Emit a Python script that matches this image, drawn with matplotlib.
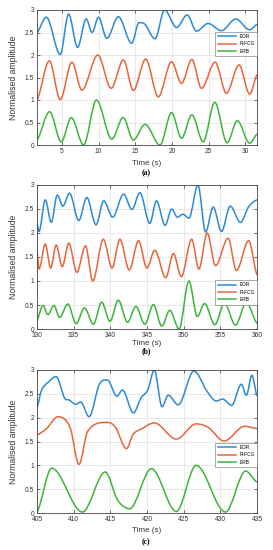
import numpy as np
import matplotlib
matplotlib.use("Agg")
import matplotlib.pyplot as plt
from matplotlib.path import Path
from matplotlib.patches import PathPatch
from matplotlib.lines import Line2D
from matplotlib.ticker import FuncFormatter

plt.rcParams['font.family'] = ['Liberation Sans', 'DejaVu Sans']

# --- valeurs (extrema + quelques points de forme) ---
# panel (a)
t_edr_a = [1.6, 2.87, 4.77, 5.91, 7.13, 8.31, 9.12, 9.98, 11.12, 12.70, 14.51, 15.51, 16.33,
           17.69, 19.0, 20.63, 22.08, 23.35, 24.94, 26.75, 28.70, 30.6, 31.6]
y_edr_a = [2.50, 2.84, 2.01, 2.91, 2.17, 2.80, 2.50, 2.84, 2.37, 2.85, 2.26, 2.72, 2.68,
           2.36, 3.0, 2.61, 2.89, 2.53, 2.70, 2.54, 2.80, 2.56, 2.68]
t_fcg_a = [1.6, 3.28, 4.77, 6.36, 7.72, 9.89, 11.71, 13.38, 14.74, 16.42, 18.14, 19.95,
           21.31, 22.72, 24.03, 25.89, 27.43, 29.15, 30.6, 31.6]
y_fcg_a = [1.0, 1.87, 1.01, 1.84, 1.22, 2.0, 1.26, 1.89, 1.21, 1.91, 1.07, 1.85,
           1.37, 1.90, 1.26, 1.84, 1.15, 1.78, 1.13, 1.56]
t_erb_a = [1.6, 3.32, 4.91, 6.27, 7.95, 9.71, 11.80, 13.34, 14.74, 16.33, 18.37, 19.95,
           21.31, 22.72, 24.26, 25.84, 27.52, 28.92, 30.6, 31.6]
y_erb_a = [0.11, 0.74, 0.07, 0.61, 0.0, 1.0, 0.13, 0.61, 0.11, 0.46, 0.0, 0.72,
           0.15, 0.67, 0.07, 0.95, 0.05, 0.54, 0.04, 0.24]

# panel (b)
t_edr_b = [330, 330.27, 331.13, 331.95, 332.76, 333.53, 334.43, 335.70, 336.79, 338.05, 339.10,
           340.32, 341.81, 342.94, 344.03, 345.38, 346.29, 347.47, 348.37, 349.14, 349.91,
           350.72, 351.95, 352.99, 354.03, 355.16, 356.35, 357.74, 358.87, 360]
y_edr_b = [2.20, 2.03, 2.69, 2.22, 2.79, 2.56, 2.83, 2.26, 2.74, 2.17, 2.67,
           2.33, 2.81, 2.49, 2.84, 2.20, 2.67, 2.16, 2.50, 2.33, 2.39,
           2.31, 3.0, 2.02, 2.54, 2.03, 2.56, 2.22, 2.55, 2.69]
t_fcg_b = [330, 330.27, 331.13, 331.86, 332.62, 333.44, 334.34, 335.43, 336.61, 337.60, 339.05,
           340.23, 341.31, 342.58, 343.85, 344.98, 346.06, 347.56, 348.60, 349.68, 351.09,
           352.08, 353.21, 354.34, 356.06, 357.19, 358.87, 360]
y_fcg_b = [1.61, 1.25, 1.77, 1.27, 1.75, 1.30, 1.79, 1.18, 1.73, 1.0, 1.87,
           1.27, 1.87, 1.23, 1.84, 1.27, 1.64, 1.07, 1.57, 1.09, 1.87,
           1.25, 2.0, 1.32, 1.89, 1.22, 1.84, 1.13]
t_erb_b = [330, 330.81, 331.49, 332.31, 333.08, 334.21, 335.34, 336.47, 337.69, 338.82, 339.95,
           341.09, 342.35, 343.48, 344.71, 345.88, 347.01, 348.10, 349.37, 350.72, 351.86,
           352.85, 354.25, 355.57, 357.06, 358.55, 360]
y_erb_b = [0.18, 0.49, 0.30, 0.49, 0.24, 0.52, 0.11, 0.44, 0.10, 0.56, 0.16,
           0.60, 0.14, 0.47, 0.10, 0.51, 0.06, 0.39, 0.0, 1.0, 0.26,
           0.53, 0.09, 0.54, 0.08, 0.55, 0.12]

# panel (c)
t_edr_c = [405, 405.6, 406.5, 407.6, 408.77, 409.4, 410.3, 410.95, 412.1, 413.5, 414.6,
           415.9, 416.65, 418.15, 419.2, 420.1, 421.0, 422.05, 422.9, 424.25, 426.4,
           428.2, 429.45, 430.3, 431.55, 432.86, 433.55, 434.3, 435]
y_edr_c = [2.21, 2.57, 2.74, 2.86, 2.41, 2.37, 2.28, 2.33, 2.02, 2.70, 2.79,
           2.45, 2.58, 2.10, 2.42, 2.58, 3.0, 2.23, 2.47, 2.27, 2.98,
           2.55, 2.35, 2.39, 2.26, 2.70, 2.47, 2.89, 2.46]
t_fcg_c = [405, 406.3, 407.86, 409.5, 410.73, 411.9, 414.6, 415.7, 417.2, 418.1, 419.2,
           421.0, 424.0, 426.7, 428.4, 430.5, 433.3, 435]
y_fcg_c = [1.64, 1.77, 2.02, 1.80, 1.02, 1.71, 1.90, 1.80, 1.35, 1.65, 1.76,
           1.89, 1.55, 1.87, 1.79, 1.51, 1.82, 1.77]
t_erb_c = [405, 407.0, 411.2, 414.3, 416.0, 417.64, 420.6, 424.0, 426.7, 430.7, 433.45, 435]
y_erb_c = [0.02, 0.94, 0.02, 0.86, 0.27, 0.09, 0.93, 0.03, 1.0, 0.02, 0.88, 0.65]

series_names = ['EDR', 'R-FCG', 'ERB']
colors = ['#2b8ad6', '#e8643a', '#3cb43a']


def smooth_patch(t, y, color):
    # courbe de Bezier passant par les points lus (tangente nulle aux extrema)
    t = np.asarray(t, float)
    y = np.asarray(y, float)
    n = len(t)
    m = np.zeros(n)
    for i in range(1, n - 1):
        if (y[i] - y[i - 1]) * (y[i + 1] - y[i]) > 0:
            m[i] = (y[i + 1] - y[i - 1]) / (t[i + 1] - t[i - 1])
    m[0] = 0.5 * (y[1] - y[0]) / (t[1] - t[0])
    m[-1] = 0.5 * (y[-1] - y[-2]) / (t[-1] - t[-2])
    verts = [(t[0], y[0])]
    codes = [Path.MOVETO]
    for i in range(n - 1):
        dt = t[i + 1] - t[i]
        verts += [(t[i] + dt / 3, y[i] + m[i] * dt / 3),
                  (t[i + 1] - dt / 3, y[i + 1] - m[i + 1] * dt / 3),
                  (t[i + 1], y[i + 1])]
        codes += [Path.CURVE4] * 3
    return PathPatch(Path(verts, codes), fill=False, edgecolor=color, lw=1.1,
                     capstyle='round', joinstyle='round')


fig = plt.figure(figsize=(2.73, 5.5), dpi=100)

panels = [
    dict(rect=[37/273, 1-145/550, 220/273, 135/550], xlim=(1.6, 31.6), xticks=[5, 10, 15, 20, 25, 30],
         data=[(t_edr_a, y_edr_a), (t_fcg_a, y_fcg_a), (t_erb_a, y_erb_a)],
         leg=dict(loc='upper right', bbox_to_anchor=(1.0, 0.84)), xl=-0.11, tag='(a)', tag_y=173),
    dict(rect=[37/273, 1-329/550, 220/273, 144/550], xlim=(330, 360), xticks=list(range(330, 361, 5)),
         data=[(t_edr_b, y_edr_b), (t_fcg_b, y_fcg_b), (t_erb_b, y_erb_b)],
         leg=dict(loc='lower right', bbox_to_anchor=(1.0, 0.17)), xl=-0.075, tag='(b)', tag_y=351),
    dict(rect=[37/273, 1-513/550, 220/273, 143/550], xlim=(405, 435), xticks=list(range(405, 436, 5)),
         data=[(t_edr_c, y_edr_c), (t_fcg_c, y_fcg_c), (t_erb_c, y_erb_c)],
         leg=dict(loc='lower right', bbox_to_anchor=(1.0, 0.32)), xl=-0.10, tag='(c)', tag_y=542),
]

fmt = FuncFormatter(lambda v, p: f"{v:g}")

for p in panels:
    ax = fig.add_axes(p['rect'])
    for (t, y), c in zip(p['data'], colors):
        ax.add_patch(smooth_patch(t, y, c))
    ax.set_xlim(*p['xlim'])
    ax.set_ylim(0, 3)
    ax.set_xticks(p['xticks'])
    ax.set_yticks(np.arange(0, 3.01, 0.5))
    ax.yaxis.set_major_formatter(fmt)
    ax.grid(True, color='#dedede', lw=0.5)
    ax.set_axisbelow(True)
    for s in ax.spines.values():
        s.set_color('#444444')
        s.set_linewidth(0.6)
    ax.tick_params(direction='in', length=2, width=0.5, labelsize=4.8, pad=2.2,
                   colors='#333333', top=True, right=True)
    ax.set_xlabel('Time (s)', fontsize=5.8, color='#333333')
    ax.xaxis.set_label_coords(0.5, p['xl'])
    ax.set_ylabel('Normalised amplitude', fontsize=6.2, color='#333333')
    ax.yaxis.set_label_coords(-0.085, 0.5)
    handles = [Line2D([], [], color=c, lw=1.1) for c in colors]
    leg = ax.legend(handles, series_names, fontsize=3.5, handlelength=3.8, handletextpad=0.6,
                    borderaxespad=0, fancybox=False, framealpha=1, edgecolor='#888888',
                    labelspacing=0.5, borderpad=0.5, **p['leg'])
    leg.get_frame().set_linewidth(0.5)
    fig.text(146/273, 1 - p['tag_y']/550, p['tag'], ha='center', va='center',
             fontsize=5.5, fontweight='bold', family=['Liberation Serif', 'DejaVu Serif'])

fig.savefig('out.png', dpi=100)
